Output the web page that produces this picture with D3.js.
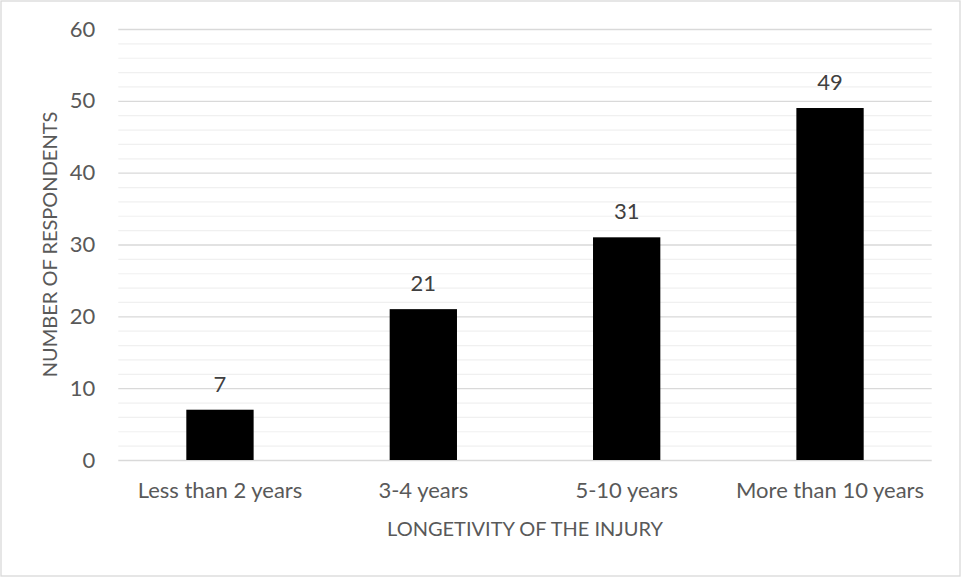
<!DOCTYPE html>
<html>
<head>
<meta charset="utf-8">
<script src="https://cdn.jsdelivr.net/npm/d3@7"></script>
<style>
  html, body { margin: 0; padding: 0; background: #ffffff; }
  svg { display: block; font-family: Lato, "Open Sans", sans-serif; }
</style>
</head>
<body>
<svg id="chart" width="961" height="577"></svg>
<script>
// Respondents grouped by how long ago the injury happened
const categories = ["Less than 2 years", "3-4 years", "5-10 years", "More than 10 years"];
const respondents = [7, 21, 31, 49];
const majorTicks = [0, 10, 20, 30, 40, 50, 60];
const minorTicks = [2, 4, 6, 8, 12, 14, 16, 18, 22, 24, 26, 28, 32, 34, 36, 38, 42, 44, 46, 48, 52, 54, 56, 58];
const xTitle = "LONGETIVITY OF THE INJURY";
const yTitle = "NUMBER OF RESPONDENTS";

const W = 961, H = 577;
const plot = { left: 118.3, right: 931.7, top: 29, bottom: 460 };
const axisColor = "#595959";
const labelColor = "#404040";
const fontSize = 22;

const svg = d3.select("#chart");

// chart frame
svg.append("rect")
  .attr("x", 1).attr("y", 1)
  .attr("width", W - 2).attr("height", H - 2)
  .attr("fill", "#ffffff")
  .attr("stroke", "#d9d9d9")
  .attr("stroke-width", 1.3);

const x = d3.scaleBand()
  .domain(categories)
  .range([plot.left, plot.right])
  .paddingInner(0).paddingOuter(0);

const y = d3.scaleLinear()
  .domain([0, 60])
  .range([plot.bottom, plot.top]);

// minor gridlines
svg.append("g")
  .attr("transform", `translate(${plot.left},0)`)
  .call(d3.axisLeft(y).tickValues(minorTicks).tickSize(-(plot.right - plot.left)).tickFormat(""))
  .call(g => g.select(".domain").remove())
  .call(g => g.selectAll(".tick line").attr("stroke", "#f0f0f0").attr("stroke-width", 1.2));

// major gridlines with value labels
svg.append("g")
  .attr("transform", `translate(${plot.left},0)`)
  .call(d3.axisLeft(y).tickValues(majorTicks).tickSize(-(plot.right - plot.left)).tickPadding(23))
  .call(g => g.select(".domain").remove())
  .call(g => g.selectAll(".tick line").attr("stroke", "#d9d9d9").attr("stroke-width", 1.3))
  .call(g => g.selectAll(".tick text")
    .attr("fill", axisColor)
    .attr("font-size", fontSize)
    .attr("font-family", "Lato, sans-serif"));

// bars
const barWidth = x.bandwidth() * 0.331;
svg.append("g")
  .selectAll("rect")
  .data(categories)
  .join("rect")
  .attr("x", (d) => x(d) + (x.bandwidth() - barWidth) / 2)
  .attr("y", (d, i) => y(respondents[i]))
  .attr("width", barWidth)
  .attr("height", (d, i) => y(0) - y(respondents[i]))
  .attr("fill", "#000000");

// data labels above the bars
svg.append("g")
  .selectAll("text")
  .data(categories)
  .join("text")
  .attr("x", (d) => x(d) + x.bandwidth() / 2)
  .attr("y", (d, i) => y(respondents[i]) - 18)
  .attr("text-anchor", "middle")
  .attr("fill", labelColor)
  .attr("font-size", fontSize)
  .text((d, i) => respondents[i]);

// category axis
svg.append("g")
  .attr("transform", `translate(0,${plot.bottom})`)
  .call(d3.axisBottom(x).tickSize(0).tickPadding(22))
  .call(g => g.select(".domain").remove())
  .call(g => g.selectAll(".tick text")
    .attr("fill", axisColor)
    .attr("font-size", fontSize)
    .attr("font-family", "Lato, sans-serif"));

// axis titles
svg.append("text")
  .attr("x", (plot.left + plot.right) / 2)
  .attr("y", 536)
  .attr("text-anchor", "middle")
  .attr("fill", axisColor)
  .attr("font-size", fontSize - 2)
  .text(xTitle);

svg.append("text")
  .attr("transform", `translate(57,${(plot.top + plot.bottom) / 2}) rotate(-90)`)
  .attr("text-anchor", "middle")
  .attr("fill", axisColor)
  .attr("font-size", fontSize - 2)
  .text(yTitle);
</script>
</body>
</html>
